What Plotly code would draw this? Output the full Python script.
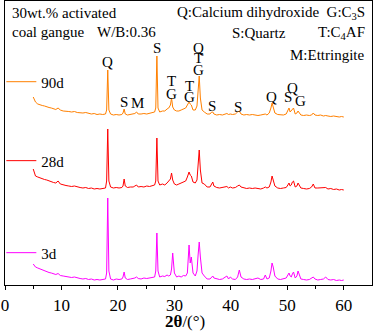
import plotly.graph_objects as go

# 2theta grid (deg) shared by the three patterns
TWO_THETA = [
    5.0, 5.4, 5.8, 6.2, 6.6, 7.0, 7.4, 7.8, 8.2, 8.6, 9.0, 9.4, 9.8, 10.3, 10.8,
    11.3, 11.8, 12.3, 12.8, 13.3, 13.8, 14.3, 14.8, 15.3, 15.8, 16.3, 16.8, 17.3, 17.8,
    18.0, 18.2, 18.4, 18.7, 19.2, 19.7, 20.2, 20.7, 20.9, 21.1, 21.3, 21.7, 22.2, 22.7,
    23.0, 23.3, 23.6, 24.1, 24.6, 25.1, 25.6, 26.1, 26.5,
    26.7, 26.9, 27.1, 27.4, 27.9, 28.3, 28.7, 29.0, 29.3, 29.5, 29.7, 30.0, 30.4, 30.8,
    31.2, 31.6, 32.0, 32.3, 32.6, 32.8, 33.0, 33.3, 33.7, 34.0, 34.2, 34.4, 34.6, 34.9, 35.3,
    35.8, 36.3, 36.6, 36.8, 37.0, 37.5, 38.0, 38.5, 39.0, 39.3, 39.6, 39.9, 40.3, 40.8,
    41.2, 41.5, 41.8, 42.3, 42.8, 43.3, 43.8, 44.3, 44.8, 45.3, 45.8, 46.1, 46.4, 46.8,
    47.1, 47.3, 47.5, 47.8, 48.3, 48.8, 49.3, 49.8, 50.1, 50.3, 50.5, 50.7, 50.9, 51.1,
    51.4, 51.7, 51.9, 52.1, 52.4, 52.9, 53.4, 53.9, 54.3, 54.6, 54.9, 55.4, 55.9, 56.4,
    56.8, 57.2, 57.7, 58.2, 58.7, 59.2, 59.6, 60.0,
]

INT_3D = [
    21, 18, 17, 16, 15, 14, 13.5, 12.5, 12, 11, 10.5, 11.5, 9.5, 9, 8.5,
    8, 7.5, 8, 7, 6.5, 6, 6.5, 5.5, 6, 5, 5.5, 5, 5.5, 6,
    12, 87, 14, 6, 5, 6, 5.5, 6, 8, 13, 7, 5.5, 6, 6.5,
    7, 8, 6.5, 6, 7, 6.5, 7, 7.5, 8,
    14, 52, 14, 8, 9, 8.5, 10, 9, 10, 16, 32, 12, 8, 9,
    8, 9.5, 9, 12, 40, 22, 28, 12, 9, 14, 30, 43, 28, 12, 9,
    6, 6, 8, 9, 7, 6, 5.5, 6, 8, 9, 6, 8, 6, 5.5,
    8, 15, 8, 6, 5.5, 6, 5.5, 6, 7, 5.5, 6, 10, 6, 7,
    14, 22, 18, 9, 6, 5.5, 6, 7, 10, 12, 9, 8, 11, 13,
    7, 9, 14, 11, 6, 5.5, 5, 5.5, 7, 8, 6, 5, 5.5, 6,
    8, 5.5, 5, 5.5, 4.5, 5, 4.5, 5,
]

INT_28D = [
    26, 19, 18, 17, 16, 15.5, 15, 14, 13, 12.5, 12, 14, 11, 10, 9.5,
    9, 8.5, 9, 8, 7.5, 7, 7.5, 6.5, 7, 6, 6.5, 6, 6.5, 7,
    14, 66, 14, 8, 7, 7.5, 7, 7.5, 9, 16, 9, 7.5, 8, 8,
    9, 10, 8, 8.5, 8, 9, 8.5, 9.5, 10,
    14, 57, 14, 10, 11, 10, 12, 14, 16, 22, 15, 11, 10, 11,
    12, 13, 14, 18, 23, 20, 19, 13, 12, 15, 30, 45, 25, 12, 11,
    8, 8, 11, 13, 9, 7.5, 7, 7.5, 8, 8.5, 7, 8, 7, 7.5,
    9, 10, 8, 7, 6.5, 7, 6.5, 7, 6.5, 6, 7, 8, 7, 8,
    13, 19, 15, 9, 7, 6.5, 7, 7.5, 10, 12, 9, 10, 13, 14,
    8, 9, 12, 10, 7, 6.5, 6, 6.5, 8, 11, 7, 7, 7, 7,
    7.5, 6, 6.5, 5.5, 6, 5, 5.5, 5,
]

INT_90D = [
    25, 20, 18, 17, 16.5, 16, 15, 14.5, 14, 13, 12.5, 14, 12, 11, 11,
    10.5, 10, 10.5, 9.5, 9, 9, 9.5, 8.5, 8, 8.5, 7.5, 8, 7.5, 8,
    12, 52, 12, 8, 7, 7.5, 7, 7.5, 9, 13, 8, 7, 7.5, 8,
    8.5, 10, 8, 8, 8.5, 8, 8.5, 9, 10,
    14, 66, 14, 10, 11, 11, 13, 14, 17, 24, 15, 12, 11, 11,
    12, 13, 14, 17, 20, 18, 17, 12, 12, 16, 32, 46, 24, 12, 10,
    8, 8, 10, 10, 8, 7, 7.5, 7, 8, 8.5, 7.5, 8, 7.5, 8,
    10, 11, 8, 7, 7.5, 7, 7.5, 7, 6.5, 7, 7.5, 8, 7, 9,
    14, 19, 15, 9, 7.5, 7, 7, 8, 11, 14, 10, 11, 13, 14,
    8, 9, 11, 9, 7, 6.5, 7, 6.5, 7, 9, 7, 6.5, 7, 6,
    6.5, 6, 5.5, 6, 5.5, 5, 5.5, 5,
]

AGES = ["3d", "28d", "90d"]
OFFSETS = [0, 90, 163]

# phase markers: (2theta, stacked height, letter)
PEAK_MARKS = [
    (18.2, 223, "Q"), (21.1, 183, "S"), (23.5, 182, "M"), (26.9, 237, "S"),
    (29.5, 204, "T"), (29.5, 191, "G"), (32.6, 199, "T"), (32.6, 188, "G"),
    (34.3, 237, "Q"), (34.3, 227, "T"), (34.3, 215, "G"),
    (36.7, 179, "S"), (41.3, 178, "S"), (47.2, 188, "Q"),
    (50.1, 188, "S"), (51.0, 197, "Q"), (52.3, 184, "G"),
]

FONT = "Liberation Serif, Times New Roman, serif"
colors = {"3d": "#FF00FF", "28d": "#FF0000", "90d": "#FF8000"}
legend_y = {"3d": 0.113, "28d": 0.437, "90d": 0.715}
legend_ids = {"3d": "legend3", "28d": "legend2", "90d": "legend"}

fig = go.Figure()
series = {"3d": INT_3D, "28d": INT_28D, "90d": INT_90D}
for age, off in zip(AGES, OFFSETS):
    fig.add_trace(go.Scatter(
        x=TWO_THETA, y=[v + off for v in series[age]], mode="lines", name=age,
        line=dict(color=colors[age], width=1), legend=legend_ids[age],
    ))

for px, py, txt in PEAK_MARKS:
    fig.add_annotation(x=px, y=py, text=txt, showarrow=False,
                       font=dict(family=FONT, size=15, color="black"))

top_notes = [
    (0.014, 0.958, "left", "30wt.% activated"),
    (0.014, 0.891, "left", "coal gangue"),
    (0.246, 0.891, "left", "W/B:0.36"),
    (0.986, 0.958, "right", "Q:Calcium dihydroxide&nbsp; G:C<sub>3</sub>S"),
    (0.613, 0.888, "left", "S:Quartz"),
    (0.986, 0.888, "right", "T:C<sub>4</sub>AF"),
    (0.986, 0.81, "right", "M:Ettringite"),
]
for nx, ny, anchor, txt in top_notes:
    fig.add_annotation(x=nx, y=ny, xref="paper", yref="paper", text=txt,
                       showarrow=False, xanchor=anchor, yanchor="middle",
                       font=dict(family=FONT, size=15, color="black"))

# axis title drawn below the tick labels
fig.add_annotation(x=0.49, y=-0.127, xref="paper", yref="paper",
                   text="<b>2θ</b>/(°)", showarrow=False, yanchor="middle",
                   font=dict(family=FONT, size=17, color="black"))

legend_style = dict(x=-0.01, xanchor="left", yanchor="middle", bgcolor="rgba(0,0,0,0)",
                    font=dict(family=FONT, size=15, color="black"), itemwidth=30)
fig.update_layout(
    width=374, height=331,
    margin=dict(l=3, r=2, t=1, b=46),
    paper_bgcolor="white", plot_bgcolor="white",
    showlegend=True,
    legend=dict(y=legend_y["90d"], **legend_style),
    legend2=dict(y=legend_y["28d"], **legend_style),
    legend3=dict(y=legend_y["3d"], **legend_style),
    xaxis=dict(
        range=[0, 65], tickvals=[0, 10, 20, 30, 40, 50, 60],
        ticks="outside", ticklen=4, tickwidth=1, tickcolor="black",
        minor=dict(tickvals=[5, 15, 25, 35, 45, 55], ticks="outside", ticklen=3,
                   tickcolor="black"),
        showline=True, linecolor="black", linewidth=1, mirror=True,
        showgrid=False, zeroline=False, ticklabelstandoff=1,
        tickfont=dict(family=FONT, size=17, color="black"),
        automargin=False,
    ),
    yaxis=dict(
        range=[0, 284], showticklabels=False, ticks="",
        showline=True, linecolor="black", linewidth=1, mirror=True,
        showgrid=False, zeroline=False, automargin=False,
    ),
)

fig.write_html("out.html", config={"displayModeBar": False},
               post_script="document.body.style.margin='0';")
